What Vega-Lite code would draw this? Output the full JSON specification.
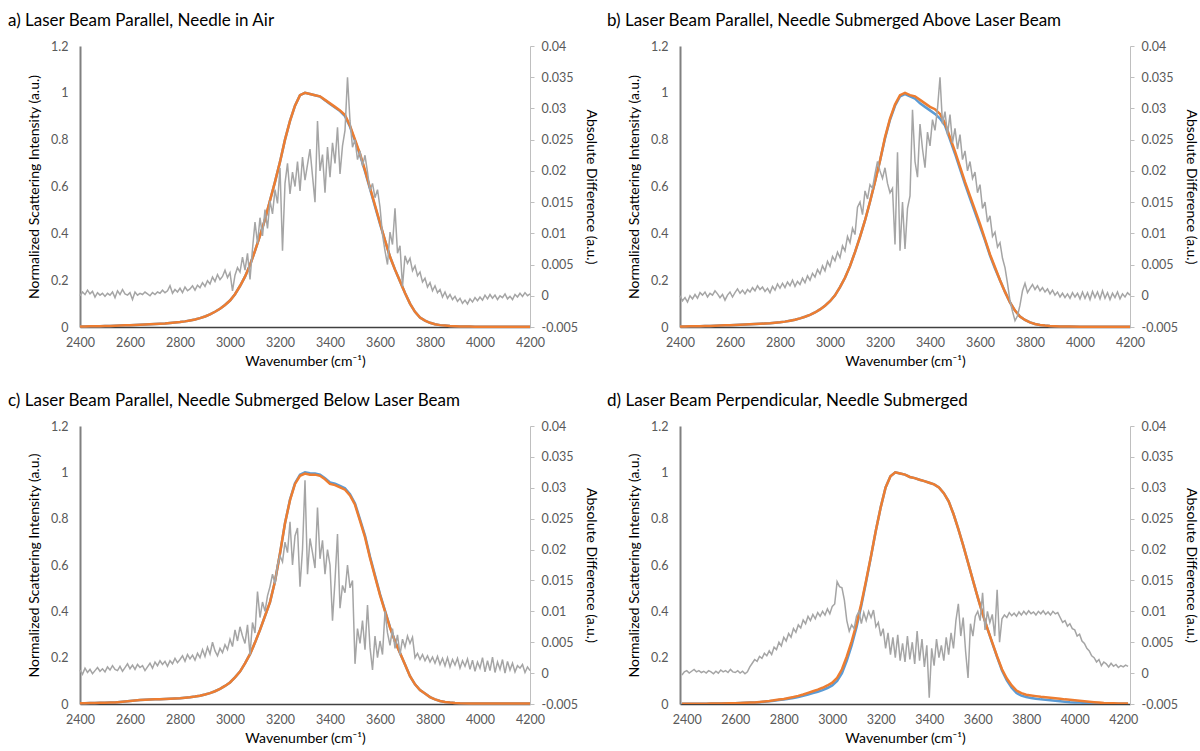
{
"$schema": "https://vega.github.io/schema/vega-lite/v6.json",
"padding": {"left": 8, "top": 12, "right": 6, "bottom": 0},
"background": "white",
"config": {
 "view": {"stroke": null},
 "font": "Lato",
 "axis": {"grid": false, "labelColor": "#595959", "labelFontSize": 12.5, "titleColor": "#000000", "titleFontSize": 14, "titleFontWeight": "normal", "labelFont": "Lato", "titleFont": "Lato", "labelFlush": false},
 "title": {"fontSize": 17, "fontWeight": "normal", "color": "#000000", "font": "Lato"}
},
"bounds": "flush",
"spacing": 380,
"datasets": {
"sa": [
{"x":2400,"o":0.002,"b":0.002},{"x":2420,"o":0.002,"b":0.002},{"x":2440,"o":0.003,"b":0.003},{"x":2460,"o":0.003,"b":0.003},{"x":2480,"o":0.003,"b":0.003},{"x":2500,"o":0.004,"b":0.004},{"x":2520,"o":0.004,"b":0.004},{"x":2540,"o":0.005,"b":0.005},{"x":2560,"o":0.006,"b":0.006},{"x":2580,"o":0.007,"b":0.007},{"x":2600,"o":0.008,"b":0.008},{"x":2620,"o":0.009,"b":0.009},{"x":2640,"o":0.010,"b":0.010},{"x":2660,"o":0.011,"b":0.011},{"x":2680,"o":0.012,"b":0.012},{"x":2700,"o":0.013,"b":0.013},{"x":2720,"o":0.014,"b":0.014},{"x":2740,"o":0.015,"b":0.015},{"x":2760,"o":0.017,"b":0.017},{"x":2780,"o":0.019,"b":0.019},{"x":2800,"o":0.021,"b":0.021},{"x":2820,"o":0.024,"b":0.024},{"x":2840,"o":0.028,"b":0.028},{"x":2860,"o":0.032,"b":0.032},{"x":2880,"o":0.038,"b":0.038},{"x":2900,"o":0.045,"b":0.045},{"x":2920,"o":0.054,"b":0.054},{"x":2940,"o":0.065,"b":0.065},{"x":2960,"o":0.078,"b":0.078},{"x":2980,"o":0.094,"b":0.094},{"x":3000,"o":0.113,"b":0.113},{"x":3020,"o":0.140,"b":0.140},{"x":3040,"o":0.175,"b":0.175},{"x":3060,"o":0.215,"b":0.215},{"x":3080,"o":0.265,"b":0.265},{"x":3100,"o":0.325,"b":0.325},{"x":3120,"o":0.390,"b":0.390},{"x":3140,"o":0.460,"b":0.460},{"x":3160,"o":0.540,"b":0.540},{"x":3180,"o":0.620,"b":0.620},{"x":3200,"o":0.705,"b":0.705},{"x":3220,"o":0.800,"b":0.800},{"x":3240,"o":0.880,"b":0.880},{"x":3260,"o":0.945,"b":0.945},{"x":3280,"o":0.990,"b":0.990},{"x":3300,"o":1.000,"b":1.000},{"x":3320,"o":0.995,"b":0.995},{"x":3340,"o":0.990,"b":0.990},{"x":3360,"o":0.985,"b":0.984},{"x":3380,"o":0.970,"b":0.968},{"x":3400,"o":0.955,"b":0.952},{"x":3420,"o":0.940,"b":0.937},{"x":3440,"o":0.925,"b":0.922},{"x":3460,"o":0.905,"b":0.900},{"x":3480,"o":0.860,"b":0.855},{"x":3500,"o":0.800,"b":0.795},{"x":3520,"o":0.740,"b":0.735},{"x":3540,"o":0.670,"b":0.665},{"x":3560,"o":0.595,"b":0.590},{"x":3580,"o":0.520,"b":0.515},{"x":3600,"o":0.445,"b":0.440},{"x":3620,"o":0.370,"b":0.370},{"x":3640,"o":0.300,"b":0.300},{"x":3660,"o":0.245,"b":0.245},{"x":3680,"o":0.195,"b":0.195},{"x":3700,"o":0.145,"b":0.145},{"x":3720,"o":0.100,"b":0.100},{"x":3740,"o":0.065,"b":0.065},{"x":3760,"o":0.040,"b":0.040},{"x":3780,"o":0.027,"b":0.027},{"x":3800,"o":0.018,"b":0.018},{"x":3820,"o":0.012,"b":0.012},{"x":3840,"o":0.008,"b":0.008},{"x":3860,"o":0.006,"b":0.006},{"x":3880,"o":0.004,"b":0.004},{"x":3900,"o":0.003,"b":0.003},{"x":3920,"o":0.002,"b":0.002},{"x":3940,"o":0.002,"b":0.002},{"x":3960,"o":0.002,"b":0.002},{"x":3980,"o":0.001,"b":0.001},{"x":4000,"o":0.001,"b":0.001},{"x":4050,"o":0.001,"b":0.001},{"x":4100,"o":0.001,"b":0.001},{"x":4150,"o":0.001,"b":0.001},{"x":4200,"o":0.001,"b":0.001}
],
"sb": [
{"x":2400,"o":0.002,"b":0.002},{"x":2420,"o":0.002,"b":0.002},{"x":2440,"o":0.003,"b":0.003},{"x":2460,"o":0.003,"b":0.003},{"x":2480,"o":0.003,"b":0.003},{"x":2500,"o":0.004,"b":0.004},{"x":2520,"o":0.004,"b":0.004},{"x":2540,"o":0.005,"b":0.005},{"x":2560,"o":0.006,"b":0.006},{"x":2580,"o":0.007,"b":0.007},{"x":2600,"o":0.008,"b":0.008},{"x":2620,"o":0.009,"b":0.009},{"x":2640,"o":0.010,"b":0.010},{"x":2660,"o":0.011,"b":0.011},{"x":2680,"o":0.012,"b":0.012},{"x":2700,"o":0.013,"b":0.013},{"x":2720,"o":0.014,"b":0.014},{"x":2740,"o":0.015,"b":0.015},{"x":2760,"o":0.016,"b":0.016},{"x":2780,"o":0.018,"b":0.018},{"x":2800,"o":0.020,"b":0.020},{"x":2820,"o":0.023,"b":0.023},{"x":2840,"o":0.027,"b":0.027},{"x":2860,"o":0.031,"b":0.031},{"x":2880,"o":0.037,"b":0.037},{"x":2900,"o":0.044,"b":0.044},{"x":2920,"o":0.052,"b":0.052},{"x":2940,"o":0.062,"b":0.062},{"x":2960,"o":0.075,"b":0.075},{"x":2980,"o":0.091,"b":0.091},{"x":3000,"o":0.110,"b":0.110},{"x":3020,"o":0.135,"b":0.135},{"x":3040,"o":0.170,"b":0.170},{"x":3060,"o":0.210,"b":0.210},{"x":3080,"o":0.260,"b":0.260},{"x":3100,"o":0.320,"b":0.320},{"x":3120,"o":0.385,"b":0.385},{"x":3140,"o":0.455,"b":0.455},{"x":3160,"o":0.535,"b":0.535},{"x":3180,"o":0.620,"b":0.620},{"x":3200,"o":0.710,"b":0.710},{"x":3220,"o":0.810,"b":0.805},{"x":3240,"o":0.890,"b":0.885},{"x":3260,"o":0.950,"b":0.945},{"x":3280,"o":0.990,"b":0.985},{"x":3300,"o":1.000,"b":0.995},{"x":3320,"o":0.990,"b":0.985},{"x":3340,"o":0.985,"b":0.975},{"x":3360,"o":0.970,"b":0.955},{"x":3380,"o":0.955,"b":0.940},{"x":3400,"o":0.940,"b":0.925},{"x":3420,"o":0.930,"b":0.910},{"x":3440,"o":0.910,"b":0.890},{"x":3460,"o":0.870,"b":0.860},{"x":3480,"o":0.810,"b":0.800},{"x":3500,"o":0.750,"b":0.740},{"x":3520,"o":0.685,"b":0.675},{"x":3540,"o":0.620,"b":0.610},{"x":3560,"o":0.560,"b":0.550},{"x":3580,"o":0.500,"b":0.490},{"x":3600,"o":0.440,"b":0.430},{"x":3620,"o":0.375,"b":0.370},{"x":3640,"o":0.310,"b":0.305},{"x":3660,"o":0.255,"b":0.250},{"x":3680,"o":0.200,"b":0.200},{"x":3700,"o":0.150,"b":0.150},{"x":3720,"o":0.105,"b":0.105},{"x":3740,"o":0.070,"b":0.070},{"x":3760,"o":0.045,"b":0.045},{"x":3780,"o":0.030,"b":0.030},{"x":3800,"o":0.020,"b":0.020},{"x":3820,"o":0.013,"b":0.013},{"x":3840,"o":0.009,"b":0.009},{"x":3860,"o":0.006,"b":0.006},{"x":3880,"o":0.004,"b":0.004},{"x":3900,"o":0.003,"b":0.003},{"x":3920,"o":0.002,"b":0.002},{"x":3960,"o":0.002,"b":0.002},{"x":4000,"o":0.001,"b":0.001},{"x":4050,"o":0.001,"b":0.001},{"x":4100,"o":0.001,"b":0.001},{"x":4150,"o":0.001,"b":0.001},{"x":4200,"o":0.001,"b":0.001}
],
"sc": [
{"x":2400,"o":0.003,"b":0.003},{"x":2420,"o":0.003,"b":0.003},{"x":2440,"o":0.004,"b":0.004},{"x":2460,"o":0.004,"b":0.004},{"x":2480,"o":0.005,"b":0.005},{"x":2500,"o":0.005,"b":0.005},{"x":2520,"o":0.006,"b":0.006},{"x":2540,"o":0.007,"b":0.007},{"x":2560,"o":0.009,"b":0.009},{"x":2580,"o":0.011,"b":0.011},{"x":2600,"o":0.013,"b":0.013},{"x":2620,"o":0.015,"b":0.015},{"x":2640,"o":0.017,"b":0.017},{"x":2660,"o":0.018,"b":0.018},{"x":2680,"o":0.019,"b":0.019},{"x":2700,"o":0.020,"b":0.020},{"x":2720,"o":0.021,"b":0.021},{"x":2740,"o":0.022,"b":0.022},{"x":2760,"o":0.023,"b":0.023},{"x":2780,"o":0.024,"b":0.024},{"x":2800,"o":0.025,"b":0.025},{"x":2820,"o":0.027,"b":0.027},{"x":2840,"o":0.029,"b":0.029},{"x":2860,"o":0.032,"b":0.032},{"x":2880,"o":0.036,"b":0.036},{"x":2900,"o":0.041,"b":0.041},{"x":2920,"o":0.047,"b":0.047},{"x":2940,"o":0.055,"b":0.055},{"x":2960,"o":0.065,"b":0.065},{"x":2980,"o":0.078,"b":0.078},{"x":3000,"o":0.093,"b":0.093},{"x":3020,"o":0.115,"b":0.115},{"x":3040,"o":0.140,"b":0.140},{"x":3060,"o":0.175,"b":0.175},{"x":3080,"o":0.215,"b":0.215},{"x":3100,"o":0.265,"b":0.265},{"x":3120,"o":0.320,"b":0.320},{"x":3140,"o":0.380,"b":0.380},{"x":3160,"o":0.440,"b":0.440},{"x":3180,"o":0.530,"b":0.530},{"x":3200,"o":0.650,"b":0.650},{"x":3220,"o":0.780,"b":0.780},{"x":3240,"o":0.880,"b":0.882},{"x":3260,"o":0.950,"b":0.953},{"x":3280,"o":0.985,"b":0.990},{"x":3300,"o":0.995,"b":1.000},{"x":3320,"o":0.990,"b":0.996},{"x":3340,"o":0.990,"b":0.995},{"x":3360,"o":0.985,"b":0.990},{"x":3380,"o":0.970,"b":0.975},{"x":3400,"o":0.950,"b":0.956},{"x":3420,"o":0.945,"b":0.951},{"x":3440,"o":0.935,"b":0.941},{"x":3460,"o":0.925,"b":0.931},{"x":3480,"o":0.900,"b":0.906},{"x":3500,"o":0.860,"b":0.866},{"x":3520,"o":0.790,"b":0.797},{"x":3540,"o":0.720,"b":0.727},{"x":3560,"o":0.630,"b":0.636},{"x":3580,"o":0.550,"b":0.555},{"x":3600,"o":0.470,"b":0.474},{"x":3620,"o":0.400,"b":0.403},{"x":3640,"o":0.330,"b":0.332},{"x":3660,"o":0.270,"b":0.271},{"x":3680,"o":0.220,"b":0.220},{"x":3700,"o":0.170,"b":0.170},{"x":3720,"o":0.120,"b":0.120},{"x":3740,"o":0.085,"b":0.085},{"x":3760,"o":0.060,"b":0.060},{"x":3780,"o":0.045,"b":0.045},{"x":3800,"o":0.030,"b":0.030},{"x":3820,"o":0.020,"b":0.020},{"x":3840,"o":0.013,"b":0.013},{"x":3860,"o":0.009,"b":0.009},{"x":3880,"o":0.006,"b":0.006},{"x":3900,"o":0.004,"b":0.004},{"x":3920,"o":0.003,"b":0.003},{"x":3960,"o":0.002,"b":0.002},{"x":4000,"o":0.002,"b":0.002},{"x":4050,"o":0.002,"b":0.002},{"x":4100,"o":0.002,"b":0.002},{"x":4150,"o":0.002,"b":0.002},{"x":4200,"o":0.002,"b":0.002}
],
"sd": [
{"x":2380,"o":0.001,"b":0.001},{"x":2400,"o":0.001,"b":0.001},{"x":2440,"o":0.001,"b":0.001},{"x":2480,"o":0.001,"b":0.001},{"x":2500,"o":0.002,"b":0.002},{"x":2540,"o":0.002,"b":0.002},{"x":2580,"o":0.003,"b":0.003},{"x":2600,"o":0.003,"b":0.003},{"x":2620,"o":0.004,"b":0.004},{"x":2640,"o":0.005,"b":0.005},{"x":2660,"o":0.006,"b":0.006},{"x":2680,"o":0.007,"b":0.007},{"x":2700,"o":0.009,"b":0.008},{"x":2720,"o":0.011,"b":0.010},{"x":2740,"o":0.013,"b":0.012},{"x":2760,"o":0.016,"b":0.014},{"x":2780,"o":0.019,"b":0.017},{"x":2800,"o":0.022,"b":0.019},{"x":2820,"o":0.026,"b":0.023},{"x":2840,"o":0.030,"b":0.026},{"x":2860,"o":0.035,"b":0.030},{"x":2880,"o":0.041,"b":0.035},{"x":2900,"o":0.048,"b":0.041},{"x":2920,"o":0.055,"b":0.047},{"x":2940,"o":0.062,"b":0.053},{"x":2960,"o":0.070,"b":0.060},{"x":2980,"o":0.080,"b":0.069},{"x":3000,"o":0.092,"b":0.080},{"x":3020,"o":0.113,"b":0.099},{"x":3040,"o":0.150,"b":0.133},{"x":3060,"o":0.205,"b":0.187},{"x":3080,"o":0.270,"b":0.253},{"x":3100,"o":0.345,"b":0.332},{"x":3120,"o":0.435,"b":0.425},{"x":3140,"o":0.535,"b":0.530},{"x":3160,"o":0.640,"b":0.638},{"x":3180,"o":0.750,"b":0.750},{"x":3200,"o":0.850,"b":0.850},{"x":3220,"o":0.935,"b":0.935},{"x":3240,"o":0.983,"b":0.983},{"x":3260,"o":1.000,"b":1.000},{"x":3280,"o":0.995,"b":0.995},{"x":3300,"o":0.990,"b":0.990},{"x":3320,"o":0.980,"b":0.980},{"x":3340,"o":0.975,"b":0.975},{"x":3360,"o":0.968,"b":0.968},{"x":3380,"o":0.962,"b":0.962},{"x":3400,"o":0.955,"b":0.955},{"x":3420,"o":0.948,"b":0.948},{"x":3440,"o":0.935,"b":0.935},{"x":3460,"o":0.910,"b":0.910},{"x":3480,"o":0.875,"b":0.875},{"x":3500,"o":0.820,"b":0.820},{"x":3520,"o":0.755,"b":0.755},{"x":3540,"o":0.685,"b":0.685},{"x":3560,"o":0.610,"b":0.610},{"x":3580,"o":0.535,"b":0.535},{"x":3600,"o":0.460,"b":0.460},{"x":3620,"o":0.390,"b":0.390},{"x":3640,"o":0.325,"b":0.325},{"x":3660,"o":0.265,"b":0.263},{"x":3680,"o":0.205,"b":0.202},{"x":3700,"o":0.150,"b":0.145},{"x":3720,"o":0.110,"b":0.102},{"x":3740,"o":0.080,"b":0.070},{"x":3760,"o":0.058,"b":0.047},{"x":3780,"o":0.047,"b":0.036},{"x":3800,"o":0.040,"b":0.030},{"x":3820,"o":0.037,"b":0.026},{"x":3840,"o":0.034,"b":0.023},{"x":3860,"o":0.031,"b":0.020},{"x":3880,"o":0.029,"b":0.018},{"x":3900,"o":0.027,"b":0.016},{"x":3920,"o":0.025,"b":0.014},{"x":3940,"o":0.023,"b":0.012},{"x":3960,"o":0.020,"b":0.010},{"x":3980,"o":0.018,"b":0.008},{"x":4000,"o":0.016,"b":0.007},{"x":4020,"o":0.014,"b":0.006},{"x":4040,"o":0.012,"b":0.005},{"x":4060,"o":0.010,"b":0.004},{"x":4080,"o":0.008,"b":0.003},{"x":4100,"o":0.006,"b":0.002},{"x":4120,"o":0.004,"b":0.001},{"x":4140,"o":0.003,"b":0.001},{"x":4160,"o":0.003,"b":0.001},{"x":4180,"o":0.002,"b":0.001},{"x":4200,"o":0.002,"b":0.001},{"x":4220,"o":0.002,"b":0.001}
],
"ga": [
{"x":2400,"d":0.0000},{"x":2410,"d":0.0006},{"x":2420,"d":0.0002},{"x":2430,"d":0.0009},{"x":2440,"d":0.0003},{"x":2450,"d":0.0007},{"x":2460,"d":-0.0002},{"x":2470,"d":0.0005},{"x":2480,"d":0.0001},{"x":2490,"d":0.0004},{"x":2500,"d":-0.0001},{"x":2510,"d":0.0004},{"x":2520,"d":0.0001},{"x":2530,"d":0.0006},{"x":2540,"d":-0.0003},{"x":2550,"d":0.0008},{"x":2560,"d":0.0002},{"x":2570,"d":0.0010},{"x":2580,"d":0.0003},{"x":2590,"d":0.0001},{"x":2600,"d":0.0005},{"x":2610,"d":-0.0006},{"x":2620,"d":0.0006},{"x":2630,"d":0.0001},{"x":2640,"d":0.0004},{"x":2650,"d":0.0002},{"x":2660,"d":0.0006},{"x":2670,"d":0.0003},{"x":2680,"d":0.0000},{"x":2690,"d":0.0005},{"x":2700,"d":0.0002},{"x":2710,"d":0.0006},{"x":2720,"d":0.0004},{"x":2730,"d":0.0009},{"x":2740,"d":0.0005},{"x":2750,"d":0.0008},{"x":2760,"d":0.0016},{"x":2770,"d":0.0004},{"x":2780,"d":0.0010},{"x":2790,"d":0.0006},{"x":2800,"d":0.0012},{"x":2810,"d":0.0005},{"x":2820,"d":0.0014},{"x":2830,"d":0.0008},{"x":2840,"d":0.0011},{"x":2850,"d":0.0016},{"x":2860,"d":0.0009},{"x":2870,"d":0.0017},{"x":2880,"d":0.0013},{"x":2890,"d":0.0021},{"x":2900,"d":0.0015},{"x":2910,"d":0.0024},{"x":2920,"d":0.0019},{"x":2930,"d":0.0030},{"x":2940,"d":0.0023},{"x":2950,"d":0.0034},{"x":2960,"d":0.0026},{"x":2970,"d":0.0031},{"x":2980,"d":0.0041},{"x":2990,"d":0.0029},{"x":3000,"d":0.0037},{"x":3010,"d":0.0008},{"x":3020,"d":0.0033},{"x":3030,"d":0.0045},{"x":3040,"d":0.0038},{"x":3050,"d":0.0062},{"x":3060,"d":0.0041},{"x":3070,"d":0.0068},{"x":3080,"d":0.0026},{"x":3090,"d":0.0075},{"x":3100,"d":0.0118},{"x":3110,"d":0.0084},{"x":3120,"d":0.0125},{"x":3130,"d":0.0096},{"x":3140,"d":0.0138},{"x":3150,"d":0.0108},{"x":3160,"d":0.0152},{"x":3170,"d":0.0131},{"x":3180,"d":0.0170},{"x":3190,"d":0.0148},{"x":3200,"d":0.0205},{"x":3210,"d":0.0072},{"x":3220,"d":0.0180},{"x":3230,"d":0.0212},{"x":3240,"d":0.0163},{"x":3250,"d":0.0198},{"x":3260,"d":0.0175},{"x":3270,"d":0.0215},{"x":3280,"d":0.0168},{"x":3290,"d":0.0222},{"x":3300,"d":0.0185},{"x":3310,"d":0.0210},{"x":3320,"d":0.0235},{"x":3330,"d":0.0192},{"x":3340,"d":0.0150},{"x":3350,"d":0.0280},{"x":3360,"d":0.0200},{"x":3370,"d":0.0226},{"x":3380,"d":0.0165},{"x":3390,"d":0.0238},{"x":3400,"d":0.0190},{"x":3410,"d":0.0245},{"x":3420,"d":0.0212},{"x":3430,"d":0.0270},{"x":3440,"d":0.0195},{"x":3450,"d":0.0240},{"x":3460,"d":0.0265},{"x":3470,"d":0.0350},{"x":3480,"d":0.0280},{"x":3490,"d":0.0238},{"x":3500,"d":0.0250},{"x":3510,"d":0.0218},{"x":3520,"d":0.0232},{"x":3530,"d":0.0208},{"x":3540,"d":0.0225},{"x":3550,"d":0.0198},{"x":3560,"d":0.0168},{"x":3570,"d":0.0180},{"x":3580,"d":0.0157},{"x":3590,"d":0.0170},{"x":3600,"d":0.0142},{"x":3610,"d":0.0098},{"x":3620,"d":0.0072},{"x":3630,"d":0.0050},{"x":3640,"d":0.0102},{"x":3650,"d":0.0082},{"x":3660,"d":0.0140},{"x":3670,"d":0.0068},{"x":3680,"d":0.0080},{"x":3690,"d":0.0015},{"x":3700,"d":0.0064},{"x":3710,"d":0.0052},{"x":3720,"d":0.0060},{"x":3730,"d":0.0040},{"x":3740,"d":0.0048},{"x":3750,"d":0.0032},{"x":3760,"d":0.0038},{"x":3770,"d":0.0022},{"x":3780,"d":0.0028},{"x":3790,"d":0.0014},{"x":3800,"d":0.0021},{"x":3810,"d":0.0008},{"x":3820,"d":0.0016},{"x":3830,"d":0.0005},{"x":3840,"d":0.0010},{"x":3850,"d":-0.0002},{"x":3860,"d":0.0006},{"x":3870,"d":-0.0004},{"x":3880,"d":0.0002},{"x":3890,"d":-0.0006},{"x":3900,"d":-0.0001},{"x":3910,"d":-0.0009},{"x":3920,"d":-0.0004},{"x":3930,"d":-0.0012},{"x":3940,"d":-0.0007},{"x":3950,"d":-0.0013},{"x":3960,"d":-0.0005},{"x":3970,"d":-0.0010},{"x":3980,"d":-0.0003},{"x":3990,"d":-0.0008},{"x":4000,"d":-0.0002},{"x":4010,"d":-0.0007},{"x":4020,"d":0.0001},{"x":4030,"d":-0.0005},{"x":4040,"d":0.0002},{"x":4050,"d":-0.0004},{"x":4060,"d":0.0001},{"x":4070,"d":-0.0006},{"x":4080,"d":0.0000},{"x":4090,"d":-0.0003},{"x":4100,"d":0.0003},{"x":4110,"d":-0.0005},{"x":4120,"d":-0.0001},{"x":4130,"d":-0.0006},{"x":4140,"d":0.0002},{"x":4150,"d":-0.0002},{"x":4160,"d":0.0004},{"x":4170,"d":-0.0001},{"x":4180,"d":0.0005},{"x":4190,"d":0.0000},{"x":4200,"d":0.0003}
],
"gb": [
{"x":2400,"d":0.0000},{"x":2410,"d":-0.0008},{"x":2420,"d":-0.0003},{"x":2430,"d":-0.0010},{"x":2440,"d":0.0000},{"x":2450,"d":-0.0005},{"x":2460,"d":0.0002},{"x":2470,"d":-0.0004},{"x":2480,"d":0.0005},{"x":2490,"d":0.0001},{"x":2500,"d":0.0006},{"x":2510,"d":-0.0002},{"x":2520,"d":0.0004},{"x":2530,"d":0.0001},{"x":2540,"d":0.0008},{"x":2550,"d":0.0003},{"x":2560,"d":-0.0003},{"x":2570,"d":0.0002},{"x":2580,"d":-0.0007},{"x":2590,"d":0.0001},{"x":2600,"d":0.0006},{"x":2610,"d":-0.0002},{"x":2620,"d":0.0005},{"x":2630,"d":0.0011},{"x":2640,"d":0.0004},{"x":2650,"d":0.0009},{"x":2660,"d":0.0003},{"x":2670,"d":0.0010},{"x":2680,"d":0.0006},{"x":2690,"d":0.0013},{"x":2700,"d":0.0008},{"x":2710,"d":0.0016},{"x":2720,"d":0.0010},{"x":2730,"d":0.0014},{"x":2740,"d":0.0007},{"x":2750,"d":0.0012},{"x":2760,"d":0.0005},{"x":2770,"d":0.0015},{"x":2780,"d":0.0009},{"x":2790,"d":0.0019},{"x":2800,"d":0.0012},{"x":2810,"d":0.0020},{"x":2820,"d":0.0013},{"x":2830,"d":0.0022},{"x":2840,"d":0.0016},{"x":2850,"d":0.0025},{"x":2860,"d":0.0015},{"x":2870,"d":0.0023},{"x":2880,"d":0.0018},{"x":2890,"d":0.0028},{"x":2900,"d":0.0021},{"x":2910,"d":0.0032},{"x":2920,"d":0.0025},{"x":2930,"d":0.0036},{"x":2940,"d":0.0030},{"x":2950,"d":0.0042},{"x":2960,"d":0.0035},{"x":2970,"d":0.0048},{"x":2980,"d":0.0040},{"x":2990,"d":0.0055},{"x":3000,"d":0.0047},{"x":3010,"d":0.0063},{"x":3020,"d":0.0056},{"x":3030,"d":0.0070},{"x":3040,"d":0.0061},{"x":3050,"d":0.0080},{"x":3060,"d":0.0072},{"x":3070,"d":0.0095},{"x":3080,"d":0.0085},{"x":3090,"d":0.0108},{"x":3100,"d":0.0098},{"x":3110,"d":0.0142},{"x":3120,"d":0.0150},{"x":3130,"d":0.0130},{"x":3140,"d":0.0168},{"x":3150,"d":0.0155},{"x":3160,"d":0.0178},{"x":3170,"d":0.0172},{"x":3180,"d":0.0195},{"x":3190,"d":0.0215},{"x":3200,"d":0.0200},{"x":3210,"d":0.0188},{"x":3220,"d":0.0205},{"x":3230,"d":0.0180},{"x":3240,"d":0.0165},{"x":3250,"d":0.0172},{"x":3260,"d":0.0082},{"x":3270,"d":0.0230},{"x":3280,"d":0.0072},{"x":3290,"d":0.0150},{"x":3300,"d":0.0075},{"x":3310,"d":0.0140},{"x":3320,"d":0.0160},{"x":3330,"d":0.0298},{"x":3340,"d":0.0215},{"x":3350,"d":0.0190},{"x":3360,"d":0.0275},{"x":3370,"d":0.0235},{"x":3380,"d":0.0205},{"x":3390,"d":0.0262},{"x":3400,"d":0.0240},{"x":3410,"d":0.0282},{"x":3420,"d":0.0265},{"x":3430,"d":0.0300},{"x":3440,"d":0.0350},{"x":3450,"d":0.0275},{"x":3460,"d":0.0295},{"x":3470,"d":0.0258},{"x":3480,"d":0.0290},{"x":3490,"d":0.0245},{"x":3500,"d":0.0268},{"x":3510,"d":0.0235},{"x":3520,"d":0.0258},{"x":3530,"d":0.0218},{"x":3540,"d":0.0232},{"x":3550,"d":0.0200},{"x":3560,"d":0.0215},{"x":3570,"d":0.0188},{"x":3580,"d":0.0198},{"x":3590,"d":0.0165},{"x":3600,"d":0.0178},{"x":3610,"d":0.0140},{"x":3620,"d":0.0150},{"x":3630,"d":0.0118},{"x":3640,"d":0.0128},{"x":3650,"d":0.0095},{"x":3660,"d":0.0102},{"x":3670,"d":0.0078},{"x":3680,"d":0.0085},{"x":3690,"d":0.0060},{"x":3700,"d":0.0045},{"x":3710,"d":0.0020},{"x":3720,"d":-0.0008},{"x":3730,"d":-0.0025},{"x":3740,"d":-0.0040},{"x":3750,"d":-0.0032},{"x":3760,"d":-0.0015},{"x":3770,"d":0.0008},{"x":3780,"d":0.0020},{"x":3790,"d":0.0005},{"x":3800,"d":0.0012},{"x":3810,"d":0.0018},{"x":3820,"d":0.0010},{"x":3830,"d":0.0016},{"x":3840,"d":0.0008},{"x":3850,"d":0.0013},{"x":3860,"d":0.0006},{"x":3870,"d":0.0011},{"x":3880,"d":0.0003},{"x":3890,"d":0.0009},{"x":3900,"d":0.0001},{"x":3910,"d":0.0006},{"x":3920,"d":-0.0002},{"x":3930,"d":0.0004},{"x":3940,"d":-0.0003},{"x":3950,"d":0.0003},{"x":3960,"d":-0.0004},{"x":3970,"d":0.0005},{"x":3980,"d":-0.0002},{"x":3990,"d":0.0004},{"x":4000,"d":-0.0005},{"x":4010,"d":0.0006},{"x":4020,"d":-0.0004},{"x":4030,"d":0.0005},{"x":4040,"d":-0.0006},{"x":4050,"d":0.0007},{"x":4060,"d":-0.0003},{"x":4070,"d":0.0006},{"x":4080,"d":-0.0005},{"x":4090,"d":0.0008},{"x":4100,"d":-0.0004},{"x":4110,"d":0.0005},{"x":4120,"d":-0.0006},{"x":4130,"d":0.0004},{"x":4140,"d":-0.0003},{"x":4150,"d":0.0006},{"x":4160,"d":-0.0005},{"x":4170,"d":0.0003},{"x":4180,"d":-0.0002},{"x":4190,"d":0.0005},{"x":4200,"d":0.0001}
],
"gc": [
{"x":2400,"d":0.0005},{"x":2410,"d":-0.0002},{"x":2420,"d":0.0008},{"x":2430,"d":0.0001},{"x":2440,"d":0.0006},{"x":2450,"d":-0.0001},{"x":2460,"d":0.0004},{"x":2470,"d":0.0009},{"x":2480,"d":0.0003},{"x":2490,"d":0.0007},{"x":2500,"d":0.0002},{"x":2510,"d":0.0010},{"x":2520,"d":0.0005},{"x":2530,"d":0.0012},{"x":2540,"d":0.0006},{"x":2550,"d":0.0004},{"x":2560,"d":0.0011},{"x":2570,"d":0.0003},{"x":2580,"d":0.0009},{"x":2590,"d":0.0015},{"x":2600,"d":0.0007},{"x":2610,"d":0.0013},{"x":2620,"d":0.0006},{"x":2630,"d":0.0014},{"x":2640,"d":0.0009},{"x":2650,"d":0.0012},{"x":2660,"d":0.0004},{"x":2670,"d":0.0010},{"x":2680,"d":0.0016},{"x":2690,"d":0.0008},{"x":2700,"d":0.0018},{"x":2710,"d":0.0012},{"x":2720,"d":0.0020},{"x":2730,"d":0.0014},{"x":2740,"d":0.0019},{"x":2750,"d":0.0011},{"x":2760,"d":0.0020},{"x":2770,"d":0.0015},{"x":2780,"d":0.0024},{"x":2790,"d":0.0017},{"x":2800,"d":0.0022},{"x":2810,"d":0.0028},{"x":2820,"d":0.0019},{"x":2830,"d":0.0030},{"x":2840,"d":0.0023},{"x":2850,"d":0.0029},{"x":2860,"d":0.0021},{"x":2870,"d":0.0032},{"x":2880,"d":0.0025},{"x":2890,"d":0.0038},{"x":2900,"d":0.0027},{"x":2910,"d":0.0042},{"x":2920,"d":0.0031},{"x":2930,"d":0.0050},{"x":2940,"d":0.0036},{"x":2950,"d":0.0028},{"x":2960,"d":0.0040},{"x":2970,"d":0.0033},{"x":2980,"d":0.0046},{"x":2990,"d":0.0038},{"x":3000,"d":0.0055},{"x":3010,"d":0.0043},{"x":3020,"d":0.0070},{"x":3030,"d":0.0052},{"x":3040,"d":0.0075},{"x":3050,"d":0.0060},{"x":3060,"d":0.0048},{"x":3070,"d":0.0078},{"x":3080,"d":0.0030},{"x":3090,"d":0.0082},{"x":3100,"d":0.0065},{"x":3110,"d":0.0132},{"x":3120,"d":0.0090},{"x":3130,"d":0.0115},{"x":3140,"d":0.0100},{"x":3150,"d":0.0125},{"x":3160,"d":0.0140},{"x":3170,"d":0.0160},{"x":3180,"d":0.0145},{"x":3190,"d":0.0175},{"x":3200,"d":0.0190},{"x":3210,"d":0.0180},{"x":3220,"d":0.0212},{"x":3230,"d":0.0195},{"x":3240,"d":0.0245},{"x":3250,"d":0.0175},{"x":3260,"d":0.0222},{"x":3270,"d":0.0235},{"x":3280,"d":0.0140},{"x":3290,"d":0.0200},{"x":3300,"d":0.0312},{"x":3310,"d":0.0160},{"x":3320,"d":0.0218},{"x":3330,"d":0.0195},{"x":3340,"d":0.0170},{"x":3350,"d":0.0268},{"x":3360,"d":0.0185},{"x":3370,"d":0.0215},{"x":3380,"d":0.0160},{"x":3390,"d":0.0200},{"x":3400,"d":0.0175},{"x":3410,"d":0.0085},{"x":3420,"d":0.0150},{"x":3430,"d":0.0225},{"x":3440,"d":0.0105},{"x":3450,"d":0.0142},{"x":3460,"d":0.0130},{"x":3470,"d":0.0175},{"x":3480,"d":0.0138},{"x":3490,"d":0.0150},{"x":3500,"d":0.0015},{"x":3510,"d":0.0072},{"x":3520,"d":0.0048},{"x":3530,"d":0.0085},{"x":3540,"d":0.0038},{"x":3550,"d":0.0110},{"x":3560,"d":0.0042},{"x":3570,"d":0.0005},{"x":3580,"d":0.0060},{"x":3590,"d":0.0025},{"x":3600,"d":0.0052},{"x":3610,"d":0.0030},{"x":3620,"d":0.0100},{"x":3630,"d":0.0065},{"x":3640,"d":0.0045},{"x":3650,"d":0.0072},{"x":3660,"d":0.0040},{"x":3670,"d":0.0062},{"x":3680,"d":0.0030},{"x":3690,"d":0.0055},{"x":3700,"d":0.0042},{"x":3710,"d":0.0060},{"x":3720,"d":0.0048},{"x":3730,"d":0.0058},{"x":3740,"d":0.0025},{"x":3750,"d":0.0032},{"x":3760,"d":0.0022},{"x":3770,"d":0.0030},{"x":3780,"d":0.0020},{"x":3790,"d":0.0028},{"x":3800,"d":0.0018},{"x":3810,"d":0.0026},{"x":3820,"d":0.0016},{"x":3830,"d":0.0027},{"x":3840,"d":0.0014},{"x":3850,"d":0.0024},{"x":3860,"d":0.0012},{"x":3870,"d":0.0025},{"x":3880,"d":0.0010},{"x":3890,"d":0.0022},{"x":3900,"d":0.0013},{"x":3910,"d":0.0024},{"x":3920,"d":0.0008},{"x":3930,"d":0.0020},{"x":3940,"d":0.0011},{"x":3950,"d":0.0023},{"x":3960,"d":0.0006},{"x":3970,"d":0.0021},{"x":3980,"d":0.0003},{"x":3990,"d":0.0018},{"x":4000,"d":0.0008},{"x":4010,"d":0.0025},{"x":4020,"d":0.0002},{"x":4030,"d":0.0020},{"x":4040,"d":0.0004},{"x":4050,"d":0.0026},{"x":4060,"d":0.0001},{"x":4070,"d":0.0018},{"x":4080,"d":0.0006},{"x":4090,"d":0.0022},{"x":4100,"d":0.0000},{"x":4110,"d":0.0019},{"x":4120,"d":0.0005},{"x":4130,"d":0.0016},{"x":4140,"d":0.0002},{"x":4150,"d":0.0012},{"x":4160,"d":0.0008},{"x":4170,"d":0.0014},{"x":4180,"d":0.0001},{"x":4190,"d":0.0010},{"x":4200,"d":0.0004}
],
"gd": [
{"x":2380,"d":-0.0003},{"x":2390,"d":0.0002},{"x":2400,"d":0.0004},{"x":2410,"d":0.0000},{"x":2420,"d":0.0003},{"x":2430,"d":0.0006},{"x":2440,"d":0.0002},{"x":2450,"d":0.0004},{"x":2460,"d":0.0001},{"x":2470,"d":0.0003},{"x":2480,"d":0.0000},{"x":2490,"d":0.0004},{"x":2500,"d":0.0002},{"x":2510,"d":-0.0001},{"x":2520,"d":0.0003},{"x":2530,"d":0.0000},{"x":2540,"d":0.0005},{"x":2550,"d":0.0002},{"x":2560,"d":0.0004},{"x":2570,"d":0.0001},{"x":2580,"d":0.0006},{"x":2590,"d":0.0002},{"x":2600,"d":0.0001},{"x":2610,"d":0.0004},{"x":2620,"d":0.0000},{"x":2630,"d":0.0003},{"x":2640,"d":-0.0001},{"x":2650,"d":0.0002},{"x":2660,"d":0.0010},{"x":2670,"d":0.0016},{"x":2680,"d":0.0022},{"x":2690,"d":0.0019},{"x":2700,"d":0.0027},{"x":2710,"d":0.0024},{"x":2720,"d":0.0032},{"x":2730,"d":0.0028},{"x":2740,"d":0.0036},{"x":2750,"d":0.0030},{"x":2760,"d":0.0042},{"x":2770,"d":0.0038},{"x":2780,"d":0.0050},{"x":2790,"d":0.0044},{"x":2800,"d":0.0058},{"x":2810,"d":0.0052},{"x":2820,"d":0.0064},{"x":2830,"d":0.0058},{"x":2840,"d":0.0072},{"x":2850,"d":0.0066},{"x":2860,"d":0.0078},{"x":2870,"d":0.0073},{"x":2880,"d":0.0086},{"x":2890,"d":0.0080},{"x":2900,"d":0.0092},{"x":2910,"d":0.0085},{"x":2920,"d":0.0095},{"x":2930,"d":0.0088},{"x":2940,"d":0.0098},{"x":2950,"d":0.0092},{"x":2960,"d":0.0100},{"x":2970,"d":0.0094},{"x":2980,"d":0.0104},{"x":2990,"d":0.0096},{"x":3000,"d":0.0108},{"x":3010,"d":0.0112},{"x":3020,"d":0.0148},{"x":3030,"d":0.0140},{"x":3040,"d":0.0138},{"x":3050,"d":0.0118},{"x":3060,"d":0.0085},{"x":3070,"d":0.0068},{"x":3080,"d":0.0078},{"x":3090,"d":0.0072},{"x":3100,"d":0.0092},{"x":3110,"d":0.0100},{"x":3120,"d":0.0080},{"x":3130,"d":0.0098},{"x":3140,"d":0.0085},{"x":3150,"d":0.0100},{"x":3160,"d":0.0090},{"x":3170,"d":0.0102},{"x":3180,"d":0.0075},{"x":3190,"d":0.0082},{"x":3200,"d":0.0060},{"x":3210,"d":0.0072},{"x":3220,"d":0.0040},{"x":3230,"d":0.0065},{"x":3240,"d":0.0030},{"x":3250,"d":0.0058},{"x":3260,"d":0.0025},{"x":3270,"d":0.0062},{"x":3280,"d":0.0020},{"x":3290,"d":0.0048},{"x":3300,"d":0.0018},{"x":3310,"d":0.0060},{"x":3320,"d":0.0022},{"x":3330,"d":0.0050},{"x":3340,"d":0.0015},{"x":3350,"d":0.0068},{"x":3360,"d":0.0020},{"x":3370,"d":0.0055},{"x":3380,"d":0.0010},{"x":3390,"d":0.0045},{"x":3400,"d":-0.0040},{"x":3410,"d":0.0040},{"x":3420,"d":0.0012},{"x":3430,"d":0.0055},{"x":3440,"d":0.0025},{"x":3450,"d":0.0045},{"x":3460,"d":0.0020},{"x":3470,"d":0.0058},{"x":3480,"d":0.0030},{"x":3490,"d":0.0065},{"x":3500,"d":0.0040},{"x":3510,"d":0.0085},{"x":3520,"d":0.0112},{"x":3530,"d":0.0060},{"x":3540,"d":0.0090},{"x":3550,"d":0.0035},{"x":3560,"d":-0.0008},{"x":3570,"d":0.0080},{"x":3580,"d":0.0060},{"x":3590,"d":0.0092},{"x":3600,"d":0.0100},{"x":3610,"d":0.0085},{"x":3620,"d":0.0130},{"x":3630,"d":0.0070},{"x":3640,"d":0.0100},{"x":3650,"d":0.0082},{"x":3660,"d":0.0095},{"x":3670,"d":0.0060},{"x":3680,"d":0.0135},{"x":3690,"d":0.0050},{"x":3700,"d":0.0088},{"x":3710,"d":0.0094},{"x":3720,"d":0.0090},{"x":3730,"d":0.0098},{"x":3740,"d":0.0093},{"x":3750,"d":0.0097},{"x":3760,"d":0.0092},{"x":3770,"d":0.0099},{"x":3780,"d":0.0094},{"x":3790,"d":0.0100},{"x":3800,"d":0.0095},{"x":3810,"d":0.0101},{"x":3820,"d":0.0096},{"x":3830,"d":0.0099},{"x":3840,"d":0.0094},{"x":3850,"d":0.0100},{"x":3860,"d":0.0096},{"x":3870,"d":0.0101},{"x":3880,"d":0.0095},{"x":3890,"d":0.0099},{"x":3900,"d":0.0094},{"x":3910,"d":0.0100},{"x":3920,"d":0.0096},{"x":3930,"d":0.0098},{"x":3940,"d":0.0090},{"x":3950,"d":0.0082},{"x":3960,"d":0.0085},{"x":3970,"d":0.0076},{"x":3980,"d":0.0080},{"x":3990,"d":0.0072},{"x":4000,"d":0.0070},{"x":4010,"d":0.0060},{"x":4020,"d":0.0063},{"x":4030,"d":0.0052},{"x":4040,"d":0.0048},{"x":4050,"d":0.0040},{"x":4060,"d":0.0036},{"x":4070,"d":0.0028},{"x":4080,"d":0.0025},{"x":4090,"d":0.0018},{"x":4100,"d":0.0022},{"x":4110,"d":0.0012},{"x":4120,"d":0.0018},{"x":4130,"d":0.0015},{"x":4140,"d":0.0010},{"x":4150,"d":0.0016},{"x":4160,"d":0.0011},{"x":4170,"d":0.0014},{"x":4180,"d":0.0009},{"x":4190,"d":0.0012},{"x":4200,"d":0.0010},{"x":4210,"d":0.0013},{"x":4220,"d":0.0011}
]
},
"vconcat": [
{"hconcat": [
{"width": 450, "height": 281,
 "title": {"text": "a) Laser Beam Parallel, Needle in Air", "anchor": "start", "frame": "group", "dx": -72, "offset": 10},
 "encoding": {"x": {"field": "x", "type": "quantitative", "scale": {"domain": [2400, 4200], "nice": false, "zero": false}, "axis": {"values": [2400,2600,2800,3000,3200,3400,3600,3800,4000,4200], "format": "d", "ticks": false, "domainColor": "#404040", "domainWidth": 1.5, "labelPadding": 9, "titlePadding": 6, "title": "Wavenumber (cm⁻¹)"}}},
 "layer": [
  {"data": {"name": "sa"}, "mark": {"type": "line", "color": "#5B9BD5", "strokeWidth": 2.5}, "encoding": {"y": {"field": "b", "type": "quantitative", "scale": {"domain": [0, 1.2], "nice": false}, "axis": {"orient": "left", "values": [0,0.2,0.4,0.6,0.8,1,1.2], "format": "~g", "ticks": false, "domainColor": "#808080", "domainWidth": 2, "labelPadding": 12, "titlePadding": 9, "title": "Normalized Scattering Intensity (a.u.)"}}}},
  {"data": {"name": "sa"}, "mark": {"type": "line", "color": "#ED7D31", "strokeWidth": 2.5}, "encoding": {"y": {"field": "o", "type": "quantitative", "scale": {"domain": [0, 1.2], "nice": false}, "axis": null}}},
  {"data": {"name": "ga"}, "mark": {"type": "line", "color": "#A5A5A5", "strokeWidth": 1.5}, "encoding": {"y": {"field": "d", "type": "quantitative", "scale": {"domain": [-0.005, 0.04], "nice": false, "zero": false}, "axis": {"orient": "right", "values": [-0.005,0,0.005,0.01,0.015,0.02,0.025,0.03,0.035,0.04], "labelExpr": "replace(format(datum.value, '~g'), '−', '-')", "ticks": true, "tickSize": 4, "tickColor": "#BFBFBF", "domainColor": "#BFBFBF", "labelPadding": 7, "titlePadding": 6, "title": "Absolute Difference (a.u.)"}}}}
 ],
 "resolve": {"scale": {"y": "independent"}}
},
{"width": 450, "height": 281,
 "title": {"text": "b)  Laser Beam Parallel, Needle Submerged Above Laser Beam", "anchor": "start", "frame": "group", "dx": -73, "offset": 10},
 "encoding": {"x": {"field": "x", "type": "quantitative", "scale": {"domain": [2400, 4200], "nice": false, "zero": false}, "axis": {"values": [2400,2600,2800,3000,3200,3400,3600,3800,4000,4200], "format": "d", "ticks": false, "domainColor": "#404040", "domainWidth": 1.5, "labelPadding": 9, "titlePadding": 6, "title": "Wavenumber (cm⁻¹)"}}},
 "layer": [
  {"data": {"name": "sb"}, "mark": {"type": "line", "color": "#5B9BD5", "strokeWidth": 2.5}, "encoding": {"y": {"field": "b", "type": "quantitative", "scale": {"domain": [0, 1.2], "nice": false}, "axis": {"orient": "left", "values": [0,0.2,0.4,0.6,0.8,1,1.2], "format": "~g", "ticks": false, "domainColor": "#808080", "domainWidth": 2, "labelPadding": 12, "titlePadding": 9, "title": "Normalized Scattering Intensity (a.u.)"}}}},
  {"data": {"name": "sb"}, "mark": {"type": "line", "color": "#ED7D31", "strokeWidth": 2.5}, "encoding": {"y": {"field": "o", "type": "quantitative", "scale": {"domain": [0, 1.2], "nice": false}, "axis": null}}},
  {"data": {"name": "gb"}, "mark": {"type": "line", "color": "#A5A5A5", "strokeWidth": 1.5}, "encoding": {"y": {"field": "d", "type": "quantitative", "scale": {"domain": [-0.005, 0.04], "nice": false, "zero": false}, "axis": {"orient": "right", "values": [-0.005,0,0.005,0.01,0.015,0.02,0.025,0.03,0.035,0.04], "labelExpr": "replace(format(datum.value, '~g'), '−', '-')", "ticks": true, "tickSize": 4, "tickColor": "#BFBFBF", "domainColor": "#BFBFBF", "labelPadding": 7, "titlePadding": 6, "title": "Absolute Difference (a.u.)"}}}}
 ],
 "resolve": {"scale": {"y": "independent"}}
}
], "bounds": "flush", "spacing": 150},
{"hconcat": [
{"width": 450, "height": 278,
 "title": {"text": "c)  Laser Beam Parallel, Needle Submerged Below Laser Beam", "anchor": "start", "frame": "group", "dx": -72, "offset": 10},
 "encoding": {"x": {"field": "x", "type": "quantitative", "scale": {"domain": [2400, 4200], "nice": false, "zero": false}, "axis": {"values": [2400,2600,2800,3000,3200,3400,3600,3800,4000,4200], "format": "d", "ticks": false, "domainColor": "#404040", "domainWidth": 1.5, "labelPadding": 9, "titlePadding": 6, "title": "Wavenumber (cm⁻¹)"}}},
 "layer": [
  {"data": {"name": "sc"}, "mark": {"type": "line", "color": "#5B9BD5", "strokeWidth": 2.5}, "encoding": {"y": {"field": "b", "type": "quantitative", "scale": {"domain": [0, 1.2], "nice": false}, "axis": {"orient": "left", "values": [0,0.2,0.4,0.6,0.8,1,1.2], "format": "~g", "ticks": false, "domainColor": "#808080", "domainWidth": 2, "labelPadding": 12, "titlePadding": 9, "title": "Normalized Scattering Intensity (a.u.)"}}}},
  {"data": {"name": "sc"}, "mark": {"type": "line", "color": "#ED7D31", "strokeWidth": 2.5}, "encoding": {"y": {"field": "o", "type": "quantitative", "scale": {"domain": [0, 1.2], "nice": false}, "axis": null}}},
  {"data": {"name": "gc"}, "mark": {"type": "line", "color": "#A5A5A5", "strokeWidth": 1.5}, "encoding": {"y": {"field": "d", "type": "quantitative", "scale": {"domain": [-0.005, 0.04], "nice": false, "zero": false}, "axis": {"orient": "right", "values": [-0.005,0,0.005,0.01,0.015,0.02,0.025,0.03,0.035,0.04], "labelExpr": "replace(format(datum.value, '~g'), '−', '-')", "ticks": true, "tickSize": 4, "tickColor": "#BFBFBF", "domainColor": "#BFBFBF", "labelPadding": 7, "titlePadding": 6, "title": "Absolute Difference (a.u.)"}}}}
 ],
 "resolve": {"scale": {"y": "independent"}}
},
{"width": 450, "height": 278,
 "title": {"text": "d)  Laser Beam Perpendicular, Needle Submerged", "anchor": "start", "frame": "group", "dx": -73, "offset": 10},
 "encoding": {"x": {"field": "x", "type": "quantitative", "scale": {"domain": [2372, 4228], "nice": false, "zero": false}, "axis": {"values": [2400,2600,2800,3000,3200,3400,3600,3800,4000,4200], "format": "d", "ticks": false, "domainColor": "#404040", "domainWidth": 1.5, "labelPadding": 9, "titlePadding": 6, "title": "Wavenumber (cm⁻¹)"}}},
 "layer": [
  {"data": {"name": "sd"}, "mark": {"type": "line", "color": "#5B9BD5", "strokeWidth": 2.5, "clip": true}, "encoding": {"y": {"field": "b", "type": "quantitative", "scale": {"domain": [0, 1.2], "nice": false}, "axis": {"orient": "left", "values": [0,0.2,0.4,0.6,0.8,1,1.2], "format": "~g", "ticks": false, "domainColor": "#808080", "domainWidth": 2, "labelPadding": 12, "titlePadding": 9, "title": "Normalized Scattering Intensity (a.u.)"}}}},
  {"data": {"name": "sd"}, "mark": {"type": "line", "color": "#ED7D31", "strokeWidth": 2.5, "clip": true}, "encoding": {"y": {"field": "o", "type": "quantitative", "scale": {"domain": [0, 1.2], "nice": false}, "axis": null}}},
  {"data": {"name": "gd"}, "mark": {"type": "line", "color": "#A5A5A5", "strokeWidth": 1.5, "clip": true}, "encoding": {"y": {"field": "d", "type": "quantitative", "scale": {"domain": [-0.005, 0.04], "nice": false, "zero": false}, "axis": {"orient": "right", "values": [-0.005,0,0.005,0.01,0.015,0.02,0.025,0.03,0.035,0.04], "labelExpr": "replace(format(datum.value, '~g'), '−', '-')", "ticks": true, "tickSize": 4, "tickColor": "#BFBFBF", "domainColor": "#BFBFBF", "labelPadding": 7, "titlePadding": 6, "title": "Absolute Difference (a.u.)"}}}}
 ],
 "resolve": {"scale": {"y": "independent"}}
}
], "bounds": "flush", "spacing": 150}
]
}
